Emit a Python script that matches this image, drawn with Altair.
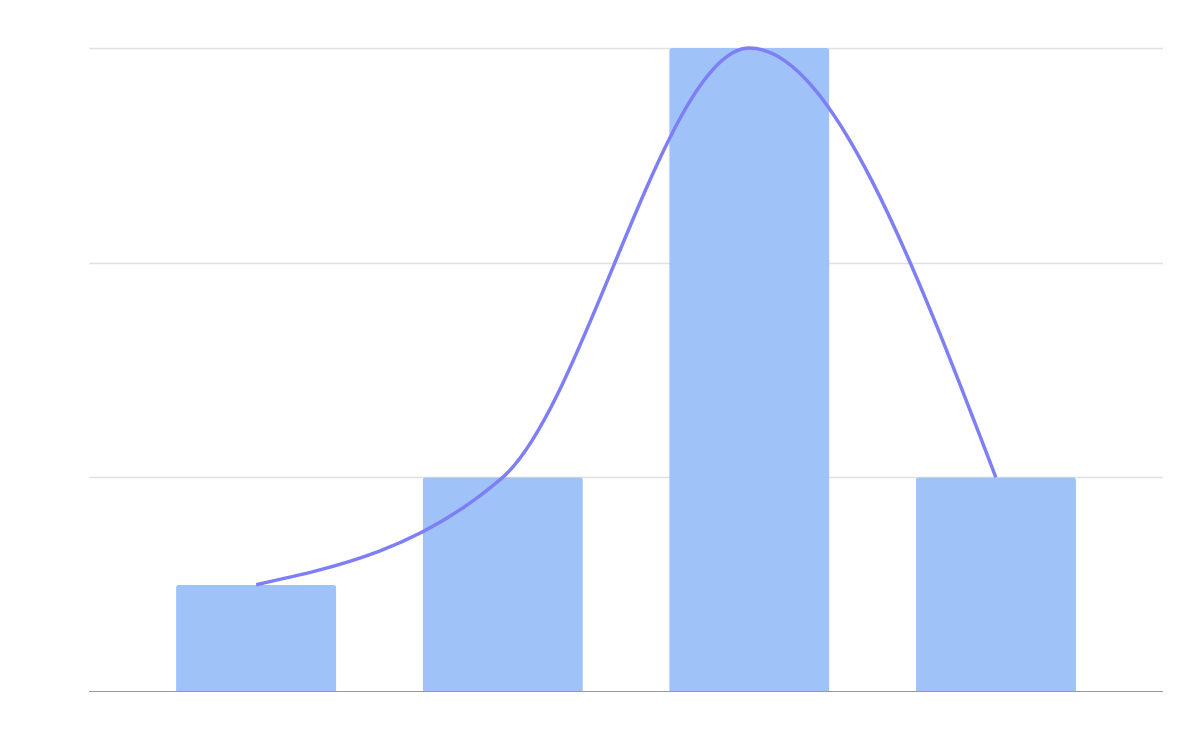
import altair as alt
import pandas as pd

categories = ["A", "B", "C", "D"]
values = [0.5, 1, 3, 1]

df = pd.DataFrame({"cat": categories, "val": values})

x = alt.X("cat:N", sort=categories,
          scale=alt.Scale(paddingInner=0.35, paddingOuter=0.353),
          axis=alt.Axis(labels=False, ticks=False, title=None, domain=False, grid=False))
y = alt.Y("val:Q", scale=alt.Scale(domain=[0, 3], nice=False),
          axis=alt.Axis(labels=False, ticks=False, title=None, domain=False,
                        values=[1, 2, 3], grid=True, gridColor="#e0e0e0", gridWidth=1.5))

base = alt.Chart(df)
bars = base.mark_bar(color="#9fc2f8", cornerRadiusTopLeft=3, cornerRadiusTopRight=3).encode(x=x, y=y)
baseline = alt.Chart(pd.DataFrame({"v": [0]})).mark_rule(color="#999999", strokeWidth=2).encode(
    y=alt.Y("v:Q"), x=alt.value(0), x2=alt.value(1074))
line = base.mark_line(color="#7f7ff5", strokeWidth=3.5, interpolate="monotone").encode(x=x, y=y)

chart = alt.layer(bars, baseline, line).properties(
    width=1074, height=644,
    padding={"left": 81, "top": 40, "right": 0, "bottom": 0},
    autosize=alt.AutoSizeParams(type="none"),
).configure_view(stroke=None)

chart.save("out.html", embed_options={"renderer": "svg", "actions": False})
